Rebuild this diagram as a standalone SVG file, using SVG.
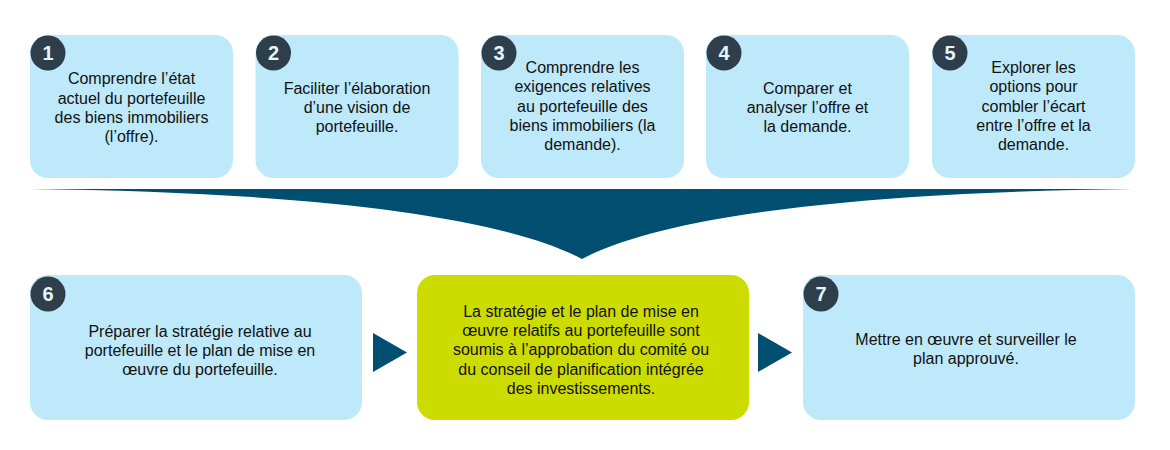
<svg xmlns="http://www.w3.org/2000/svg" width="1170" height="450" viewBox="0 0 1170 450">
<style>
.box{fill:#bde9fb}
.green{fill:#cddc00}
.badge{fill:#2e3e4a}
.num{font-family:"Liberation Sans",Arial,sans-serif;font-weight:bold;font-size:20px;fill:#e3f5fd;text-anchor:middle}
.t{font-family:"Liberation Sans",Arial,sans-serif;font-size:16px;fill:#111;text-anchor:middle}
.navy{fill:#004e70}
</style>
<rect width="1170" height="450" fill="#fff"/>
<g id="connectors">
<path class="navy" d="M30,189 L1134,189 C864,192 664,215 582,259 C500,215 300,192 30,189 Z"/>
<polygon class="navy" points="373,333 407,352.5 373,372"/>
<polygon class="navy" points="758,333 792,352.5 758,372"/>
</g>
<g id="node1">
<rect class="box" x="30" y="35" width="203" height="143" rx="18"/>
<circle class="badge" cx="48" cy="53" r="17.5"/>
<text class="num" x="48" y="60">1</text>
<text class="t" x="131.5" y="84.3">Comprendre l’état</text>
<text class="t" x="131.5" y="103.6">actuel du portefeuille</text>
<text class="t" x="131.5" y="122.9">des biens immobiliers</text>
<text class="t" x="131.5" y="142.2">(l’offre).</text>
</g>
<g id="node2">
<rect class="box" x="255.5" y="35" width="203" height="143" rx="18"/>
<circle class="badge" cx="273.5" cy="53" r="17.5"/>
<text class="num" x="273.5" y="60">2</text>
<text class="t" x="357" y="93.5">Faciliter l’élaboration</text>
<text class="t" x="357" y="112.8">d’une vision de</text>
<text class="t" x="357" y="132.1">portefeuille.</text>
</g>
<g id="node3">
<rect class="box" x="481" y="35" width="203" height="143" rx="18"/>
<circle class="badge" cx="499" cy="53" r="17.5"/>
<text class="num" x="499" y="60">3</text>
<text class="t" x="582.5" y="73">Comprendre les</text>
<text class="t" x="582.5" y="92.3">exigences relatives</text>
<text class="t" x="582.5" y="111.6">au portefeuille des</text>
<text class="t" x="582.5" y="130.9">biens immobiliers (la</text>
<text class="t" x="582.5" y="150.2">demande).</text>
</g>
<g id="node4">
<rect class="box" x="706" y="35" width="203" height="143" rx="18"/>
<circle class="badge" cx="724" cy="53" r="17.5"/>
<text class="num" x="724" y="60">4</text>
<text class="t" x="807.5" y="93.5">Comparer et</text>
<text class="t" x="807.5" y="112.8">analyser l’offre et</text>
<text class="t" x="807.5" y="132.1">la demande.</text>
</g>
<g id="node5">
<rect class="box" x="932" y="35" width="203" height="143" rx="18"/>
<circle class="badge" cx="950" cy="53" r="17.5"/>
<text class="num" x="950" y="60">5</text>
<text class="t" x="1033.5" y="73">Explorer les</text>
<text class="t" x="1033.5" y="92.3">options pour</text>
<text class="t" x="1033.5" y="111.6">combler l’écart</text>
<text class="t" x="1033.5" y="130.9">entre l’offre et la</text>
<text class="t" x="1033.5" y="150.2">demande.</text>
</g>
<g id="node6">
<rect class="box" x="30" y="275" width="332" height="145" rx="18"/>
<circle class="badge" cx="48" cy="294" r="17.5"/>
<text class="num" x="48" y="301">6</text>
<text class="t" x="200" y="336.7">Préparer la stratégie relative au</text>
<text class="t" x="200" y="356">portefeuille et le plan de mise en</text>
<text class="t" x="200" y="375.3">œuvre du portefeuille.</text>
</g>
<g id="approval">
<rect class="green" x="417" y="275" width="332" height="145" rx="18"/>
<text class="t" x="581" y="316.7">La stratégie et le plan de mise en</text>
<text class="t" x="581" y="336">œuvre relatifs au portefeuille sont</text>
<text class="t" x="581" y="355.3">soumis à l’approbation du comité ou</text>
<text class="t" x="581" y="374.6">du conseil de planification intégrée</text>
<text class="t" x="581" y="393.9">des investissements.</text>
</g>
<g id="node7">
<rect class="box" x="803" y="275" width="332" height="145" rx="18"/>
<circle class="badge" cx="821" cy="294" r="17.5"/>
<text class="num" x="821" y="301">7</text>
<text class="t" x="966" y="345">Mettre en œuvre et surveiller le</text>
<text class="t" x="966" y="364.3">plan approuvé.</text>
</g>
</svg>
